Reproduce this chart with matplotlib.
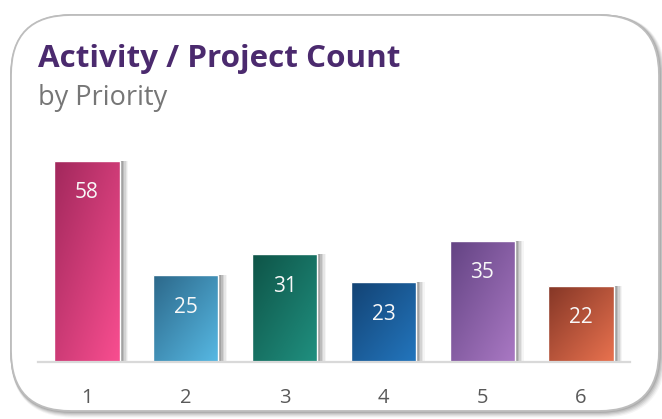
import numpy as np
import matplotlib
matplotlib.use("Agg")
import matplotlib.pyplot as plt
from matplotlib.colors import LinearSegmentedColormap
from matplotlib.patches import FancyBboxPatch

plt.rcParams["font.family"] = ["Open Sans", "DejaVu Sans"]

# data
priorities = ["1", "2", "3", "4", "5", "6"]
counts = [58, 25, 31, 23, 35, 22]
# (dark top-left, light bottom-right) per bar
bar_colors = [
    ("#A1285C", "#F94E90"),
    ("#2C688A", "#57B9E4"),
    ("#0E5447", "#209080"),
    ("#134374", "#2376BE"),
    ("#634383", "#AA79C4"),
    ("#843626", "#E9724F"),
]
title = "Activity / Project Count"
subtitle = "by Priority"

W, H = 662, 419
fig = plt.figure(figsize=(W / 100, H / 100), dpi=100)

# background card with rounded border and soft shadow
bg = fig.add_axes([0, 0, 1, 1], zorder=0)
bg.set_xlim(0, W)
bg.set_ylim(H, 0)
bg.axis("off")
for k, a in [(5, 0.08), (4, 0.12), (3, 0.16), (2, 0.22), (1, 0.3)]:
    bg.add_patch(FancyBboxPatch((11 + k * 0.6, 15 + k * 0.6), 648, 396,
                                boxstyle="round,pad=0,rounding_size=60",
                                fc="none", ec="#808080", lw=1.2 + k * 0.8, alpha=a))
bg.add_patch(FancyBboxPatch((11, 15), 648, 396, boxstyle="round,pad=0,rounding_size=60",
                            fc="white", ec="#BDBDBD", lw=1.3))

bg.text(38, 67, title, fontsize=22.6, fontweight="bold", color="#4B2A6E", va="baseline")
bg.text(38, 105, subtitle, fontsize=19.5, color="#767676", va="baseline")

# bar chart
ax = fig.add_axes([37.6 / W, 57 / H, 592.8 / W, 222 / H], zorder=1)
ax.patch.set_alpha(0)
x = np.arange(len(priorities))
width = 0.66

# shadows to the right of each bar
for dx, a in [(0.09, 0.06), (0.075, 0.09), (0.06, 0.13), (0.045, 0.18), (0.03, 0.25)]:
    ax.bar(x + dx, counts, width, bottom=0, color="#555555", alpha=a, lw=0, zorder=1)

bars = ax.bar(x, counts, width, color="none", edgecolor="white", lw=1, zorder=3)

yy, xx = np.mgrid[0:1:100j, 0:1:100j]
grad = (xx + yy) / 2  # 0 at top-left, 1 at bottom-right (image origin upper)
for b, (c0, c1) in zip(bars, bar_colors):
    cmap = LinearSegmentedColormap.from_list("g", [c0, c1])
    x0, w, h = b.get_x(), b.get_width(), b.get_height()
    im = ax.imshow(grad, cmap=cmap, extent=(x0, x0 + w, 0, h), origin="upper",
                   aspect="auto", zorder=2, interpolation="bilinear")
    im.set_clip_path(b)
    ax.annotate(str(int(h)), (x0 + w / 2, h), xytext=(0, -23), textcoords="offset points",
                ha="center", va="center", color="#F8F8F8", fontsize=15, zorder=4)

ax.set_xlim(-0.5, len(priorities) - 0.5)
ax.set_ylim(0, 64)
ax.set_xticks(x)
ax.set_xticklabels(priorities, fontsize=14.5, color="#595959")
ax.tick_params(axis="x", length=0, pad=19)
ax.set_yticks([])
for s in ["top", "right", "left"]:
    ax.spines[s].set_visible(False)
ax.spines["bottom"].set_color("#D9D9D9")
ax.spines["bottom"].set_linewidth(1.6)
ax.spines["bottom"].set_zorder(5)

fig.savefig("out.png", dpi=100)
